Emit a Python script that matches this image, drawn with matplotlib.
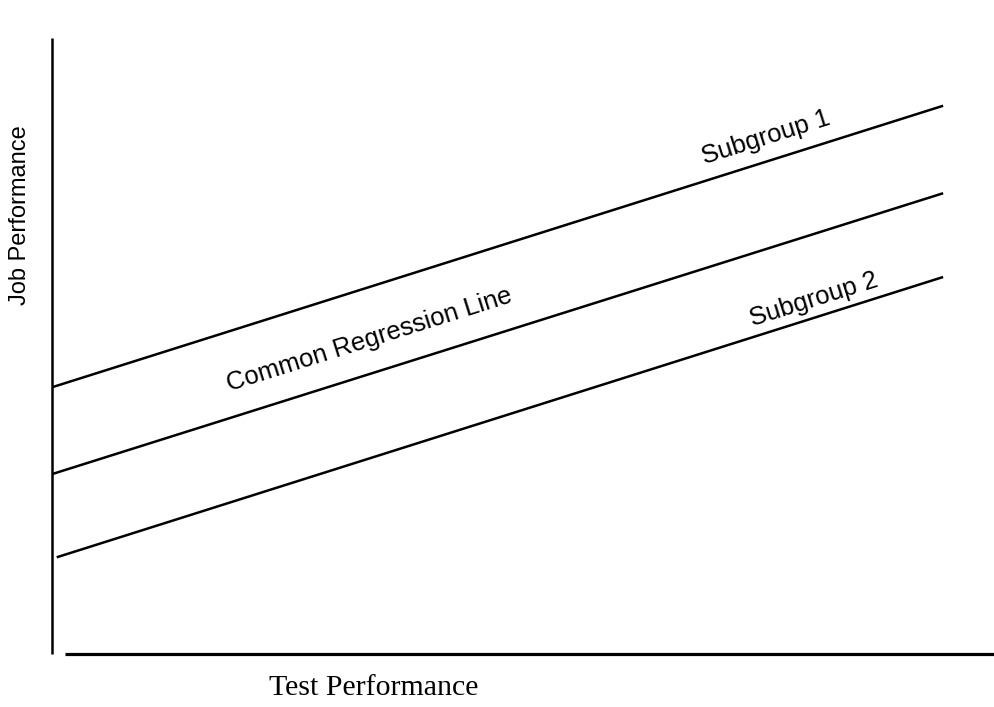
import numpy as np
import matplotlib
matplotlib.use('Agg')
import matplotlib.pyplot as plt

# Line endpoints (x = test score, y = job performance, 0-100 scale)
sub1_x = [0.0, 94.5]
sub1_y = [43.3, 89.0]
common_x = [0.0, 94.5]
common_y = [29.2, 74.8]
sub2_x = [0.5, 94.5]
sub2_y = [15.7, 61.2]

# Label text and anchor points
line_labels = ['Subgroup 1', 'Common Regression Line', 'Subgroup 2']
label_x = [75.7, 33.7, 80.8]
label_y = [83.9, 51.0, 57.5]

fig = plt.figure(figsize=(9.95, 7.07), dpi=100)
ax = fig.add_axes([52 / 995, 1 - 654 / 707, 943 / 995, 616 / 707])
ax.set_xlim(0, 100)
ax.set_ylim(0, 100)
ax.axis('off')

# axes drawn by hand: y axis runs the full height, x axis starts a little right of it
ax.plot([0, 0], [0, 100], color='black', lw=1.8, solid_capstyle='butt', clip_on=False)
ax.plot([1.4, 100], [0, 0], color='black', lw=2.3, solid_capstyle='butt', clip_on=False)

for xs, ys in [(sub1_x, sub1_y), (common_x, common_y), (sub2_x, sub2_y)]:
    ax.plot(xs, ys, color='black', lw=1.8, solid_capstyle='butt')

# rotate labels to follow the lines on screen
p0 = ax.transData.transform((common_x[0], common_y[0]))
p1 = ax.transData.transform((common_x[1], common_y[1]))
angle = np.degrees(np.arctan2(p1[1] - p0[1], p1[0] - p0[0]))

for txt, lx, ly in zip(line_labels, label_x, label_y):
    ax.text(lx, ly, txt, rotation=angle, rotation_mode='anchor',
            ha='center', va='center', fontsize=18.5, family='Liberation Sans')

fig.text(20 / 995, 1 - 215 / 707, 'Job Performance', rotation=90,
         ha='center', va='center', fontsize=17, family='Liberation Sans')
fig.text(374 / 995, 1 - 695 / 707, 'Test Performance',
         ha='center', va='baseline', fontsize=21.5, family='Liberation Serif')

fig.savefig('out.png', dpi=100)
